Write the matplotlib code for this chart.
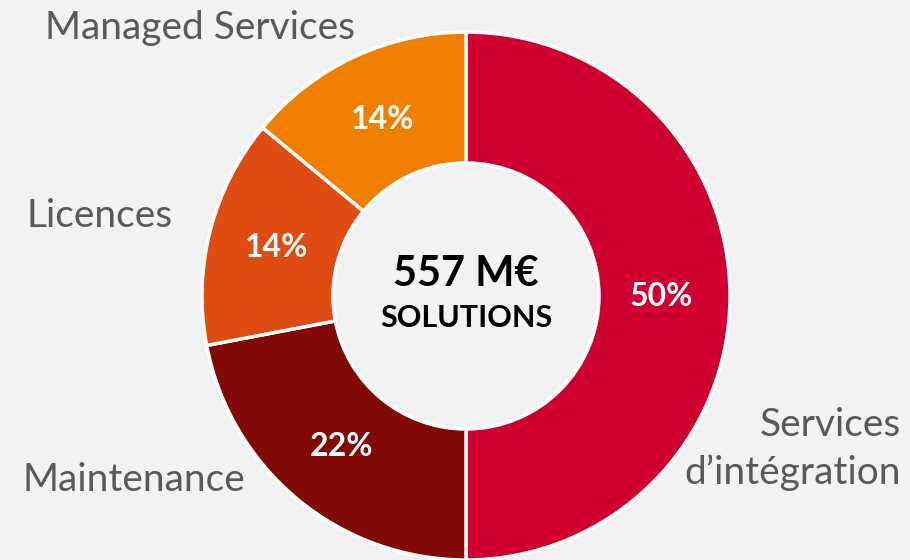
import matplotlib
matplotlib.use("Agg")
import matplotlib.pyplot as plt

# data
segments = ["Services\nd\u2019intégration", "Maintenance", "Licences", "Managed Services"]
shares = [50, 22, 14, 14]
colors = ["#CF0030", "#820A06", "#E04B12", "#F07F00"]
total_label = "557 M€"
total_sub = "SOLUTIONS"

plt.rcParams['font.family'] = ['Lato', 'DejaVu Sans']

bg = "#F2F2F2"
fig = plt.figure(figsize=(9.1, 5.6), dpi=100, facecolor=bg)
ax = fig.add_axes([0, 0, 1, 1])
ax.set_facecolor(bg)

cx, cy, r_out = 466, 264, 264
wedges, texts, autotexts = ax.pie(
    shares, colors=colors, startangle=90, counterclock=False,
    center=(cx, cy), radius=r_out, frame=True,
    autopct=lambda p: f"{p:.0f}%", pctdistance=0.74,
    wedgeprops=dict(width=131, edgecolor="white", linewidth=2.5),
    textprops=dict(color="white", fontsize=23, fontweight="bold"))
ax.set_xlim(0, 910)
ax.set_ylim(0, 560)
ax.set_aspect("equal")
ax.axis("off")

# centre text
ax.text(cx, cy + 22, total_label, ha="center", va="center", fontsize=30,
        fontweight="bold", color="black")
ax.text(cx, cy - 22, total_sub, ha="center", va="center", fontsize=22,
        fontweight="bold", color="black")

# outer labels
lab_kw = dict(fontsize=28, color="#595959", va="center")
ax.text(200, 532, segments[3], ha="center", **lab_kw)
ax.text(100, 344, segments[2], ha="center", **lab_kw)
ax.text(134, 80, segments[1], ha="center", **lab_kw)
ax.text(901, 111, segments[0], ha="right", multialignment="right",
        linespacing=1.4, **lab_kw)

fig.savefig("out.png", dpi=100, facecolor=bg)
